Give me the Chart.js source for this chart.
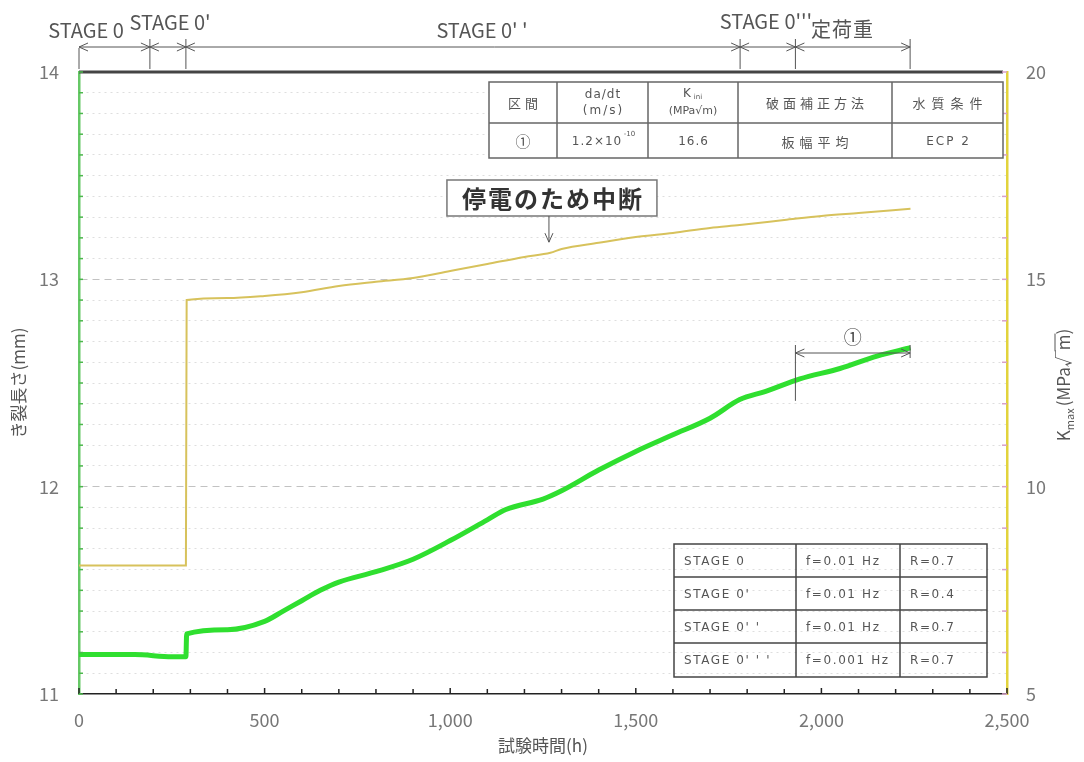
<!DOCTYPE html>
<html>
<head>
<meta charset="utf-8">
<script src="https://cdn.jsdelivr.net/npm/chart.js@4.4.1/dist/chart.umd.min.js"></script>
<style>
  html, body { margin: 0; padding: 0; background: #ffffff; }
  canvas { display: block; }
</style>
</head>
<body>
<canvas id="chart" width="1084" height="762"></canvas>
<script>
const FONT = '"Noto Sans CJK JP", "Noto Sans", sans-serif';
const WIDE = '"DejaVu Sans", "Noto Sans CJK JP", sans-serif';

// Crack length (mm) against test time (h)
const crackHours  = [0, 150, 250, 288, 290, 400, 500, 550, 600, 650, 700, 800, 900, 1000, 1100, 1150, 1250, 1300, 1400, 1500, 1600, 1700, 1780, 1850, 1942, 2050, 2150, 2240];
const crackLength = [11.19, 11.19, 11.18, 11.18, 11.29, 11.31, 11.35, 11.40, 11.45, 11.50, 11.54, 11.59, 11.65, 11.74, 11.84, 11.89, 11.94, 11.98, 12.08, 12.17, 12.25, 12.33, 12.42, 12.46, 12.52, 12.57, 12.63, 12.67];

// Maximum stress intensity factor (MPa√m) against test time (h)
const kHours = [0, 150, 288, 290, 400, 500, 600, 700, 800, 900, 1000, 1100, 1200, 1270, 1300, 1400, 1500, 1600, 1700, 1780, 1900, 2000, 2100, 2240];
const kMax   = [8.1, 8.1, 8.1, 14.50, 14.55, 14.60, 14.69, 14.84, 14.94, 15.03, 15.20, 15.37, 15.54, 15.64, 15.73, 15.88, 16.02, 16.12, 16.24, 16.31, 16.43, 16.53, 16.60, 16.70];

// Test stages (h)
const stageBounds = [0, 191, 288, 1781, 1930, 2239];
const stageNames  = ["STAGE 0", "STAGE 0'", "STAGE 0' '", "STAGE 0'''", "定荷重"];

// Evaluated interval ①
const regionStart = 1930;
const regionEnd   = 2239;
const regionLabel = '①';

// Power outage note
const outageHour  = 1266;
const outageK     = 15.8;
const outageLabel = '停電のため中断';

// Evaluation condition table
const condRow = ['①', '1.2×10', '16.6', '板幅平均', 'ECP 2'];

// Loading condition table
const stageRows = [
  ['STAGE 0',      'f=0.01 Hz',  'R=0.7'],
  ["STAGE 0'",     'f=0.01 Hz',  'R=0.4'],
  ["STAGE 0' '",   'f=0.01 Hz',  'R=0.7'],
  ["STAGE 0' ' '", 'f=0.001 Hz', 'R=0.7']
];

const X_MIN = 0, X_MAX = 2500;
const YL_MIN = 11, YL_MAX = 14;
const YR_MIN = 5, YR_MAX = 20;

const near = (v, t) => Math.abs(v - t) < 1e-6;
const isInt = v => near(v, Math.round(v));

function chevron(ctx, x, y, dx, dy, len, half) {
  // open arrowhead with its tip at (x, y), pointing along (dx, dy)
  const px = -dy, py = dx;
  ctx.beginPath();
  ctx.moveTo(x - dx * len + px * half, y - dy * len + py * half);
  ctx.lineTo(x, y);
  ctx.lineTo(x - dx * len - px * half, y - dy * len - py * half);
  ctx.stroke();
}

function line(ctx, x1, y1, x2, y2) {
  ctx.beginPath();
  ctx.moveTo(x1, y1);
  ctx.lineTo(x2, y2);
  ctx.stroke();
}

function text(ctx, s, x, y, font, spacing) {
  ctx.font = font;
  ctx.letterSpacing = (spacing || 0) + 'px';
  // letter spacing also trails the last glyph; shift to keep it centred
  const shift = ctx.textAlign === 'center' ? (spacing || 0) / 2 : 0;
  ctx.fillText(s, x + shift, y);
  ctx.letterSpacing = '0px';
}

const decorations = {
  id: 'decorations',
  afterDraw(chart) {
    const ctx = chart.ctx;
    const xs = chart.scales.x, yl = chart.scales.y, yr = chart.scales.y2;
    const area = chart.chartArea;
    ctx.save();

    // top frame line
    ctx.strokeStyle = '#444';
    ctx.lineWidth = 3;
    line(ctx, area.left, area.top, area.right - 4, area.top);

    // inward tick marks
    ctx.lineWidth = 1.5;
    ctx.strokeStyle = '#222';
    xs.ticks.forEach(t => {
      const px = xs.getPixelForValue(t.value);
      line(ctx, px, area.bottom, px, area.bottom - (t.value % 500 === 0 ? 6 : 5));
    });
    ctx.strokeStyle = '#4cb84c';
    yl.ticks.forEach(t => {
      const py = yl.getPixelForValue(t.value);
      line(ctx, area.left, py, area.left + 4, py);
    });
    ctx.strokeStyle = '#d8a0c8';
    yr.ticks.forEach(t => {
      const py = yr.getPixelForValue(t.value);
      line(ctx, area.right, py, area.right - 5, py);
    });

    // stage dimension lines above the plot
    ctx.strokeStyle = '#555';
    ctx.lineWidth = 1;
    const dimY = 47;
    const bx = stageBounds.map(h => xs.getPixelForValue(h));
    line(ctx, bx[0], dimY, bx[bx.length - 1], dimY);
    bx.forEach((px, i) => {
      line(ctx, px, i === 0 ? 48 : 39, px, 69);
    });
    for (let i = 0; i < bx.length - 1; i++) {
      chevron(ctx, bx[i], dimY, -1, 0, 9, 4);
      chevron(ctx, bx[i + 1], dimY, 1, 0, 9, 4);
    }
    ctx.fillStyle = '#555';
    ctx.textAlign = 'center';
    ctx.textBaseline = 'middle';
    const labelPos = [[86, 30], [170, 22], [482, 30], [766, 21], [842, 29]];
    stageNames.forEach((s, i) => {
      text(ctx, s, labelPos[i][0], labelPos[i][1], '20px ' + FONT, i === 4 ? 1 : 0);
    });

    // interval ① dimension
    const r0 = xs.getPixelForValue(regionStart);
    const r1 = xs.getPixelForValue(regionEnd);
    const rY = 353;
    ctx.strokeStyle = '#555';
    line(ctx, r0, 345, r0, yl.getPixelForValue(12.52) + 22);
    line(ctx, r1, 345, r1, 358);
    line(ctx, r0, rY, r1, rY);
    chevron(ctx, r0, rY, -1, 0, 9, 4);
    chevron(ctx, r1, rY, 1, 0, 9, 4);
    ctx.fillStyle = '#444';
    text(ctx, regionLabel, (r0 + r1) / 2, 337, '18px ' + FONT);

    // outage note
    const ox = xs.getPixelForValue(outageHour);
    const oy = yr.getPixelForValue(outageK) - 4;
    const bw = 210, bh = 36, bxL = ox - 102, byT = 180;
    ctx.fillStyle = '#fff';
    ctx.fillRect(bxL, byT, bw, bh);
    ctx.strokeStyle = '#777';
    ctx.lineWidth = 1.5;
    ctx.strokeRect(bxL, byT, bw, bh);
    ctx.fillStyle = '#333';
    text(ctx, outageLabel, bxL + bw / 2, byT + bh / 2 + 1, 'bold 24px ' + FONT, 2);
    ctx.strokeStyle = '#555';
    ctx.lineWidth = 1;
    line(ctx, ox, byT + bh, ox, oy);
    chevron(ctx, ox, oy, 0, 1, 9, 4);

    // evaluation condition table
    const tc = [489, 557, 648, 738, 892, 1003];
    const tr = [82, 123, 158];
    ctx.fillStyle = '#fff';
    ctx.fillRect(tc[0], tr[0], tc[5] - tc[0], tr[2] - tr[0]);
    ctx.strokeStyle = '#666';
    ctx.lineWidth = 1.5;
    ctx.strokeRect(tc[0], tr[0], tc[5] - tc[0], tr[2] - tr[0]);
    line(ctx, tc[0], tr[1], tc[5], tr[1]);
    for (let i = 1; i < tc.length - 1; i++) line(ctx, tc[i], tr[0], tc[i], tr[2]);
    const cx = i => (tc[i] + tc[i + 1]) / 2;
    ctx.fillStyle = '#555';
    const cjk = '13px ' + FONT, lat = '12px ' + WIDE;
    text(ctx, '区間', cx(0), 103, cjk, 4);
    text(ctx, 'da/dt', cx(1), 95, lat, 1);
    text(ctx, '(m/s)', cx(1), 111, lat, 2);
    text(ctx, 'K', cx(2) - 6, 94, lat, 0);
    text(ctx, 'ini', cx(2) + 5, 97, '7px ' + WIDE, 0);
    text(ctx, '(MPa√m)', cx(2), 111, '11px ' + WIDE, 0);
    text(ctx, '破面補正方法', cx(3), 103, cjk, 4);
    text(ctx, '水質条件', cx(4), 103, cjk, 6);
    text(ctx, condRow[0], cx(0), 141, '15px ' + FONT, 0);
    text(ctx, condRow[1], cx(1) - 6, 142, lat, 1);
    text(ctx, '-10', cx(1) + 27, 134, '7px ' + WIDE, 0);
    text(ctx, condRow[2], cx(2), 142, lat, 1);
    text(ctx, condRow[3], cx(3), 142, cjk, 5);
    text(ctx, condRow[4], cx(4), 142, lat, 2);

    // loading condition table
    const sc = [674, 796, 900, 987];
    const sr = [544, 577, 610, 643, 677];
    ctx.strokeStyle = '#444';
    ctx.lineWidth = 1.5;
    ctx.strokeRect(sc[0], sr[0], sc[3] - sc[0], sr[4] - sr[0]);
    for (let i = 1; i < sr.length - 1; i++) line(ctx, sc[0], sr[i], sc[3], sr[i]);
    for (let i = 1; i < sc.length - 1; i++) line(ctx, sc[i], sr[0], sc[i], sr[4]);
    ctx.fillStyle = '#555';
    ctx.textAlign = 'left';
    stageRows.forEach((row, r) => {
      const ty = (sr[r] + sr[r + 1]) / 2 + 1;
      row.forEach((txt, c) => text(ctx, txt, sc[c] + 10, ty, '12px ' + WIDE, 1.6));
    });

    // right axis title: K_max(MPa√m)
    ctx.save();
    ctx.translate(1064, 385);
    ctx.rotate(-Math.PI / 2);
    ctx.fillStyle = '#555';
    ctx.textAlign = 'left';
    ctx.textBaseline = 'middle';
    const big = '17px ' + FONT, small = '11px ' + FONT;
    ctx.font = big; const wK = ctx.measureText('K').width;
    ctx.font = small; const wS = ctx.measureText('max').width;
    ctx.font = big;
    const wA = ctx.measureText('(MPa').width;
    const wR = ctx.measureText('√').width;
    const wM = ctx.measureText('m').width;
    const wC = ctx.measureText(')').width;
    const total = wK + wS + wA + wR + wM + wC + 2;
    let px = -total / 2;
    ctx.fillText('K', px, 0); px += wK;
    ctx.font = small; ctx.fillText('max', px, 6); px += wS + 2;
    ctx.font = big; ctx.fillText('(MPa', px, 0); px += wA;
    ctx.fillText('√', px, 0); px += wR;
    ctx.strokeStyle = '#555';
    ctx.lineWidth = 1;
    line(ctx, px - 1, -9, px + wM + 1, -9);
    ctx.fillText('m', px, 0); px += wM;
    ctx.fillText(')', px, 0);
    ctx.restore();

    ctx.restore();
  }
};

new Chart(document.getElementById('chart'), {
  type: 'line',
  data: {
    datasets: [
      {
        label: 'K max',
        data: kHours.map((h, i) => ({ x: h, y: kMax[i] })),
        yAxisID: 'y2',
        borderColor: '#d7c25c',
        borderWidth: 2,
        pointRadius: 0,
        cubicInterpolationMode: 'monotone'
      },
      {
        label: 'き裂長さ',
        data: crackHours.map((h, i) => ({ x: h, y: crackLength[i] })),
        yAxisID: 'y',
        borderColor: '#2fdf2f',
        borderWidth: 5,
        pointRadius: 0,
        cubicInterpolationMode: 'monotone'
      }
    ]
  },
  options: {
    responsive: false,
    animation: false,
    layout: { padding: { top: 72, left: 0, right: 0, bottom: 0 } },
    plugins: { legend: { display: false }, tooltip: { enabled: false } },
    scales: {
      x: {
        type: 'linear',
        min: X_MIN, max: X_MAX,
        afterFit: s => { s.height = 68; },
        ticks: {
          stepSize: 100,
          autoSkip: false,
          maxRotation: 0,
          padding: 15,
          color: '#777',
          font: { family: FONT, size: 18 },
          callback: v => (v % 500 === 0 ? v.toLocaleString('en-US') : '')
        },
        grid: { drawOnChartArea: false, drawTicks: false },
        border: { color: '#222', width: 1.5 },
        title: {
          display: true,
          text: '試験時間(h)',
          color: '#555',
          font: { family: FONT, size: 17 },
          padding: { top: 0, bottom: 6 }
        }
      },
      y: {
        position: 'left',
        min: YL_MIN, max: YL_MAX,
        afterFit: s => { s.width = 79; },
        ticks: {
          stepSize: 0.1,
          autoSkip: false,
          padding: 20,
          color: '#777',
          font: { family: FONT, size: 18 },
          callback: v => (isInt(v) ? String(Math.round(v)) : '')
        },
        grid: {
          drawTicks: false,
          color: c => {
            if (!c.tick) return '#ddd';
            const v = c.tick.value;
            if (near(v, YL_MIN) || near(v, YL_MAX)) return 'rgba(0,0,0,0)';
            return isInt(v) ? '#c2c2c2' : '#dedede';
          },
          lineWidth: 1
        },
        border: {
          color: '#66c866',
          width: 2.5,
          dash: c => (c.tick === undefined ? [] : (isInt(c.tick.value) ? [7, 5] : [2, 4]))
        },
        title: {
          display: true,
          text: 'き裂長さ(mm)',
          color: '#555',
          font: { family: FONT, size: 17 },
          padding: { top: 8, bottom: 0 }
        }
      },
      y2: {
        position: 'right',
        min: YR_MIN, max: YR_MAX,
        afterFit: s => { s.width = 77; },
        ticks: {
          stepSize: 1,
          autoSkip: false,
          padding: 19,
          color: '#777',
          font: { family: FONT, size: 18 },
          callback: v => (v % 5 === 0 ? String(v) : '')
        },
        grid: { drawOnChartArea: false, drawTicks: false },
        border: { color: '#e2d33c', width: 2.5 }
      }
    }
  },
  plugins: [decorations]
});
</script>
</body>
</html>
